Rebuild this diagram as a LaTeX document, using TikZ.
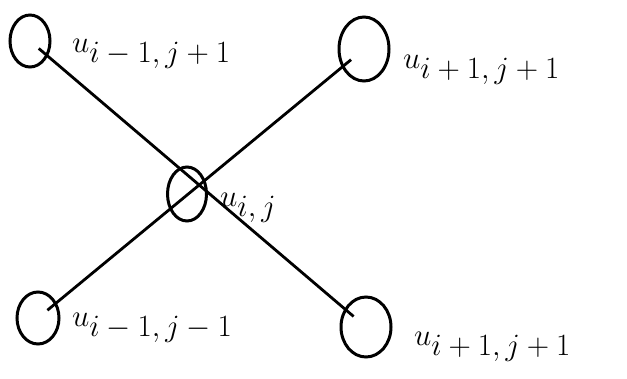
\RequirePackage{fix-cm}
\documentclass[tikz,border=0pt]{standalone}
\usetikzlibrary{shapes.geometric}
\begin{document}
\begin{tikzpicture}[x=1pt,y=-1pt,
  pt/.style={draw=black,line width=3pt,ellipse,inner sep=0pt},
  lbl/.style={anchor=west,inner sep=0pt,font=\fontsize{31}{37}\selectfont},
  edge/.style={draw=black,line width=2.8pt,shorten <=-12pt,shorten >=-12pt}]
\useasboundingbox (0,0) rectangle (627,378);
\node[pt,minimum width=40pt,minimum height=52pt] (tl) at (30,41) {};
\node[pt,minimum width=50pt,minimum height=64pt] (tr) at (364,49) {};
\node[pt,minimum width=39pt,minimum height=54pt] (c) at (187,194) {};
\node[pt,minimum width=42pt,minimum height=52pt] (bl) at (38,318) {};
\node[pt,minimum width=50pt,minimum height=60pt] (br) at (366,327) {};
\node[lbl] (ltl) at (72,54) {$u_{\textstyle i-1,j+1}$};
\node[lbl] (ltr) at (403,70) {$u_{\textstyle i+1,j+1}$};
\node[lbl] (lc) at (220,208) {$u_{\textstyle i,j}$};
\node[lbl] (lbl) at (72,328) {$u_{\textstyle i-1,j-1}$};
\node[lbl] (lbr) at (414,347) {$u_{\textstyle i+1,j+1}$};
\draw[edge] (tl) -- (br);
\draw[edge] (bl) -- (tr);
\end{tikzpicture}
\end{document}
